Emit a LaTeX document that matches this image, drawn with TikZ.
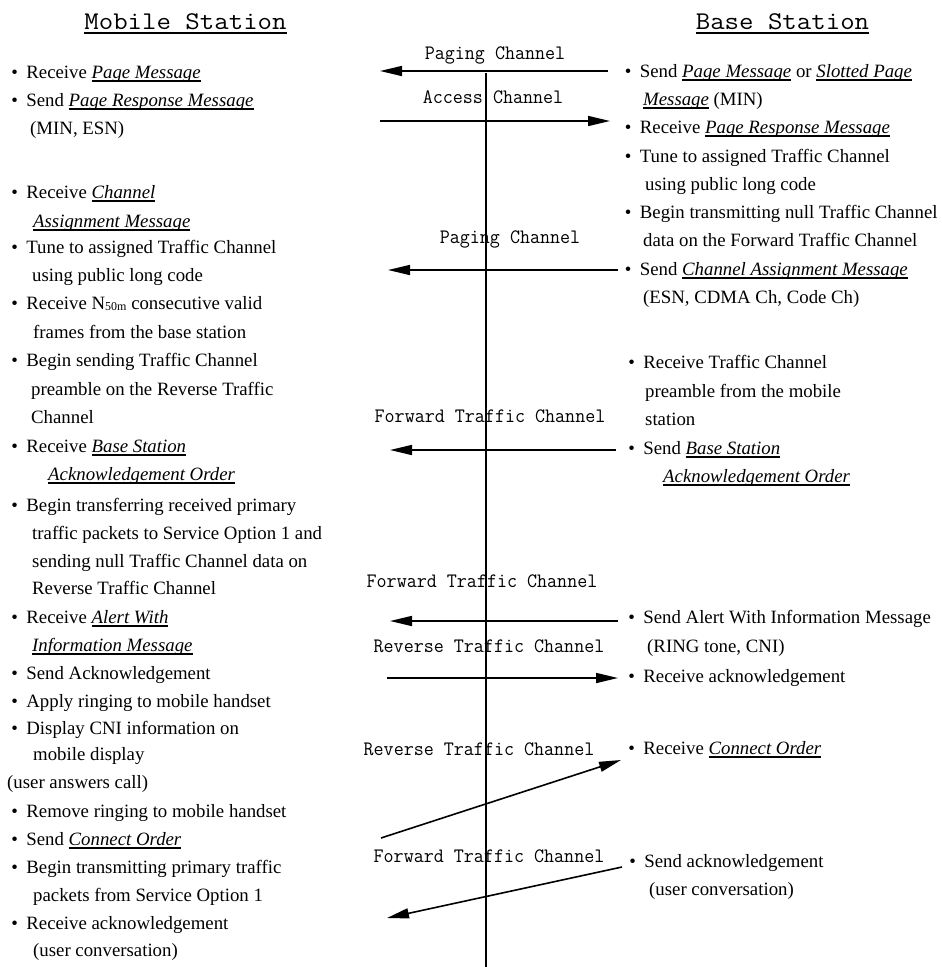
\documentclass[tikz,border=0pt]{standalone}
\usepackage{fontspec}
\setmainfont{Liberation Serif}
\newfontfamily\chanfam[FakeStretch=0.95]{Latin Modern Mono}
\newfontfamily\ttlfam[FakeStretch=1.1]{Latin Modern Mono}
\usetikzlibrary{arrows.meta}

% underlined text: #1 = drop below baseline, #2 = rule thickness, #3 = text
\newsavebox\ulbx
\newcommand\undl[3]{\sbox\ulbx{#3}\leavevmode\rlap{\rule[-#1]{\wd\ulbx}{#2}}\usebox\ulbx}
% message names: italic with a heavy underline
\newcommand\msg[1]{\undl{3.8pt}{1.9pt}{\textit{#1}}}
% list bullet with its gap
\newcommand\bul{\makebox[9pt]{\textbullet}\hspace{7.2pt}}
\newcommand\bodysize{\fontsize{18.8}{22}\selectfont}
\newcommand\subsize{\fontsize{12}{12}\selectfont}

\tikzset{
  txt/.style={anchor=base west, inner sep=0pt, font=\bodysize},
  chan/.style={anchor=base, inner sep=0pt, font=\chanfam\fontsize{20.5}{24}\selectfont},
  ttl/.style={anchor=base, inner sep=0pt, font=\ttlfam\fontsize{25.5}{30}\selectfont},
  lifeline/.style={line width=1.8pt},
  msgarrow/.style={line width=1.6pt, -{Triangle[length=22pt,width=10pt]}}
}

\begin{document}
\begin{tikzpicture}[x=1pt, y=-1pt]
\fill[white] (0,0) rectangle (942,967);
\useasboundingbox (0,0) rectangle (942,967);

% column headings
\node[ttl] (ms) at (185.5,29) {\undl{4.5pt}{1.8pt}{Mobile Station}};
\node[ttl] (bs) at (782.5,29) {\undl{4.5pt}{1.8pt}{Base Station}};

% the time line between the two stations
\coordinate (lifetop) at (486,73);
\coordinate (lifebot) at (486,967);
\draw[lifeline] (lifetop) -- (lifebot);

% ---------------- mobile station column ----------------
\node[txt] (l1)  at (10,78)  {\bul Receive \msg{Page Message}};
\node[txt] (l2)  at (10,106) {\bul Send \msg{Page Response Message}};
\node[txt] (l3)  at (30,134) {(MIN, ESN)};
\node[txt] (l4)  at (10,198) {\bul Receive \msg{Channel}};
\node[txt] (l5)  at (33,227) {\msg{Assignment Message}};
\node[txt] (l6)  at (10,253) {\bul Tune to assigned Traffic Channel};
\node[txt] (l7)  at (32,281) {using public long code};
\node[txt] (l8)  at (10,309) {\bul Receive N{\subsize\raisebox{-1.5pt}{50m}} consecutive valid};
\node[txt] (l9)  at (33,338) {frames from the base station};
\node[txt] (l10) at (10,366) {\bul Begin sending Traffic Channel};
\node[txt] (l11) at (31,395) {preamble on the Reverse Traffic};
\node[txt] (l12) at (31,423) {Channel};
\node[txt] (l13) at (10,452) {\bul Receive \msg{Base Station}};
\node[txt] (l14) at (48,480) {\msg{Acknowledgement Order}};
\node[txt] (l15) at (10,511) {\bul Begin transferring received primary};
\node[txt] (l16) at (32,539) {traffic packets to Service Option 1 and};
\node[txt] (l17) at (32,567) {sending null Traffic Channel data on};
\node[txt] (l18) at (32,594) {Reverse Traffic Channel};
\node[txt] (l19) at (10,623) {\bul Receive \msg{Alert With}};
\node[txt] (l20) at (32,651) {\msg{Information Message}};
\node[txt] (l21) at (10,679) {\bul Send Acknowledgement};
\node[txt] (l22) at (10,707) {\bul Apply ringing to mobile handset};
\node[txt] (l23) at (10,734) {\bul Display CNI information on};
\node[txt] (l24) at (33,760) {mobile display};
\node[txt] (l25) at (7,788)  {(user answers call)};
\node[txt] (l26) at (10,817) {\bul Remove ringing to mobile handset};
\node[txt] (l27) at (10,845) {\bul Send \msg{Connect Order}};
\node[txt] (l28) at (10,873) {\bul Begin transmitting primary traffic};
\node[txt] (l29) at (33,901) {packets from Service Option 1};
\node[txt] (l30) at (10,929) {\bul Receive acknowledgement};
\node[txt] (l31) at (33,956) {(user conversation)};

% ---------------- base station column ----------------
\node[txt] (r1)  at (623.5,77)  {\bul Send \msg{Page Message} or \msg{Slotted Page}};
\node[txt] (r2)  at (643,105)   {\msg{Message} (MIN)};
\node[txt] (r3)  at (623.5,133) {\bul Receive \msg{Page Response Message}};
\node[txt] (r4)  at (623.5,162) {\bul Tune to assigned Traffic Channel};
\node[txt] (r5)  at (645,190)   {using public long code};
\node[txt] (r6)  at (623.5,218) {\bul Begin transmitting null Traffic Channel};
\node[txt] (r7)  at (643,246)   {data on the Forward Traffic Channel};
\node[txt] (r8)  at (623.5,275) {\bul Send \msg{Channel Assignment Message}};
\node[txt] (r9)  at (643,303)   {(ESN, CDMA Ch, Code Ch)};
\node[txt] (r10) at (627,368)   {\bul Receive Traffic Channel};
\node[txt] (r11) at (645,397)   {preamble from the mobile};
\node[txt] (r12) at (645,425)   {station};
\node[txt] (r13) at (627,454)   {\bul Send \msg{Base Station}};
\node[txt] (r14) at (663,482)   {\msg{Acknowledgement Order}};
\node[txt] (r15) at (627,623)   {\bul Send Alert With Information Message};
\node[txt] (r16) at (647,652)   {(RING tone, CNI)};
\node[txt] (r17) at (627,682)   {\bul Receive acknowledgement};
\node[txt] (r18) at (627,754)   {\bul Receive \msg{Connect Order}};
\node[txt] (r19) at (628,867)   {\bul Send acknowledgement};
\node[txt] (r20) at (649,895)   {(user conversation)};

% ---------------- channel names ----------------
\node[chan] (c1) at (495,59.5)  {Paging Channel};
\node[chan] (c2) at (493,103.5) {Access Channel};
\node[chan] (c3) at (510,243.5) {Paging Channel};
\node[chan] (c4) at (490,422.5) {Forward Traffic Channel};
\node[chan] (c5) at (482,587.5) {Forward Traffic Channel};
\node[chan] (c6) at (489,652.5) {Reverse Traffic Channel};
\node[chan] (c7) at (479,755.5) {Reverse Traffic Channel};
\node[chan] (c8) at (489,862.5) {Forward Traffic Channel};

% ---------------- message arrows ----------------
\coordinate (a1s) at (608,71);  \coordinate (a1e) at (380,71);
\coordinate (a2s) at (380,121); \coordinate (a2e) at (610,121);
\coordinate (a3s) at (618,270); \coordinate (a3e) at (388,270);
\coordinate (a4s) at (616,450); \coordinate (a4e) at (390,450);
\coordinate (a5s) at (618,621); \coordinate (a5e) at (390,621);
\coordinate (a6s) at (387,678); \coordinate (a6e) at (618,678);
\coordinate (a7s) at (381,838); \coordinate (a7e) at (621,760);
\coordinate (a8s) at (622,867); \coordinate (a8e) at (387,918);

\draw[msgarrow] (a1s) -- (a1e);
\draw[msgarrow] (a2s) -- (a2e);
\draw[msgarrow] (a3s) -- (a3e);
\draw[msgarrow] (a4s) -- (a4e);
\draw[msgarrow] (a5s) -- (a5e);
\draw[msgarrow] (a6s) -- (a6e);
\draw[msgarrow] (a7s) -- (a7e);
\draw[msgarrow] (a8s) -- (a8e);
\end{tikzpicture}
\end{document}
